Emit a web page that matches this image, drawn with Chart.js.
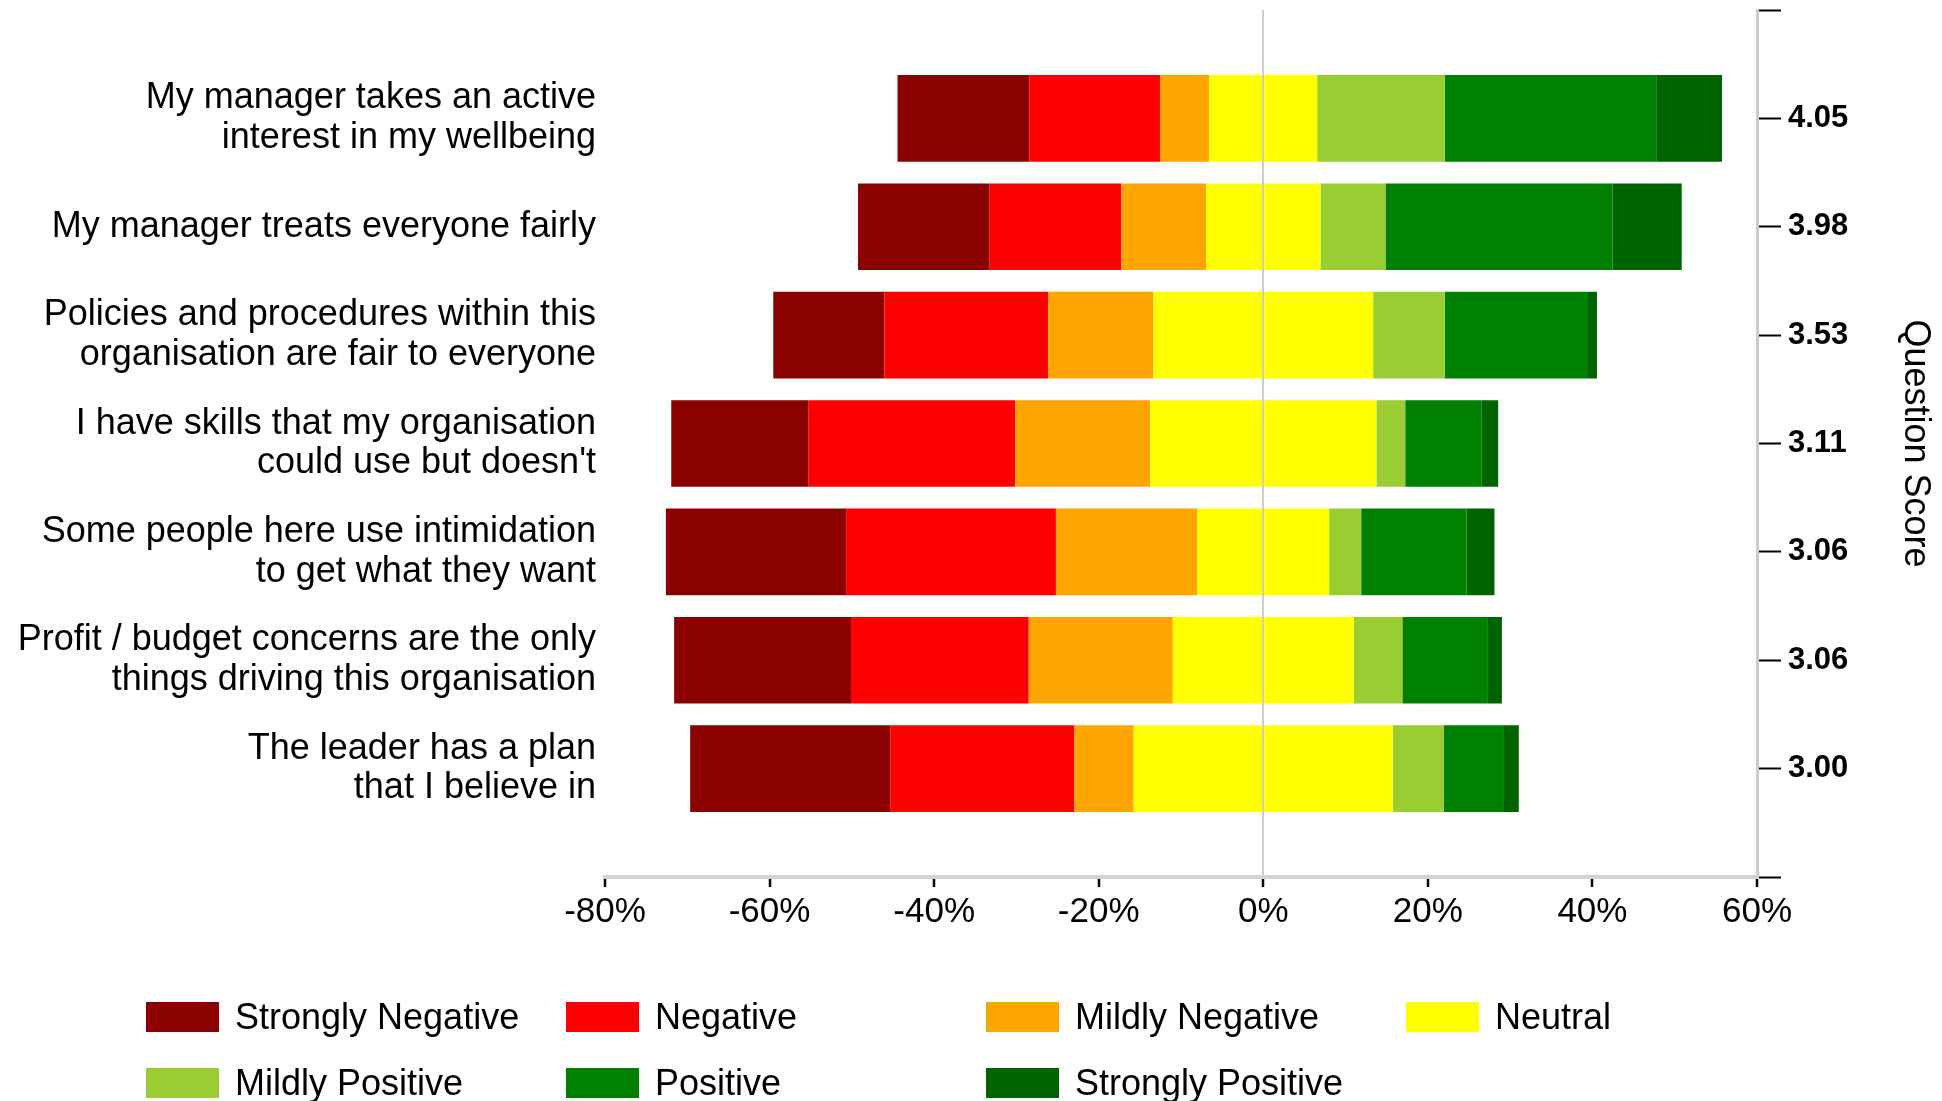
<!DOCTYPE html>
<html>
<head>
<meta charset="utf-8">
<script src="https://cdn.jsdelivr.net/npm/chart.js@4.4.1/dist/chart.umd.min.js"></script>
<style>
  html, body { margin: 0; padding: 0; background: #fff; }
  #wrap { position: relative; width: 1942px; height: 1101px; }
  #legend {
    position: absolute; left: 146px; top: 1002px;
    display: grid; grid-template-columns: repeat(4, 420px); row-gap: 36px;
    font: 36px "Liberation Sans", Arial, sans-serif; color: #000;
  }
  .item { display: flex; align-items: center; height: 30px; white-space: nowrap; }
  .swatch { width: 73px; height: 30px; margin-right: 16px; flex: none; }
</style>
</head>
<body>
<div id="wrap">
  <canvas id="chart" width="1942" height="1101"></canvas>
  <div id="legend"></div>
</div>
<script>
const questions = [
  ['My manager takes an active', 'interest in my wellbeing'],
  'My manager treats everyone fairly',
  ['Policies and procedures within this', 'organisation are fair to everyone'],
  ['I have skills that my organisation', "could use but doesn't"],
  ['Some people here use intimidation', 'to get what they want'],
  ['Profit / budget concerns are the only', 'things driving this organisation'],
  ['The leader has a plan', 'that I believe in']
];
const scores = ['4.05', '3.98', '3.53', '3.11', '3.06', '3.06', '3.00'];

const responses = ['Strongly Negative', 'Negative', 'Mildly Negative', 'Neutral', 'Mildly Positive', 'Positive', 'Strongly Positive'];
const colors = ['#8b0000', '#ff0000', '#ffa500', '#ffff00', '#9acd32', '#008000', '#006400'];

// % of answers per question (one entry per question, same order as above)
const stronglyNegative = [16.0, 16.0, 13.5, 16.7, 21.9, 21.5, 24.3];
const negative         = [15.9, 16.0, 19.9, 25.1, 25.5, 21.6, 22.4];
const mildlyNegative   = [6.0, 10.3, 12.8, 16.4, 17.2, 17.5, 7.2];
const neutral          = [13.1, 13.9, 26.7, 27.5, 16.0, 22.0, 31.5];
const mildlyPositive   = [15.5, 7.9, 8.7, 3.5, 3.9, 5.9, 6.2];
const positive         = [25.7, 27.6, 17.3, 9.3, 12.8, 10.4, 7.3];
const stronglyPositive = [8.0, 8.4, 1.2, 2.0, 3.4, 1.7, 1.8];

const xMin = -80, xMax = 60, xStep = 20;

// empty slot above and below the questions, so the axes get end ticks
const pad = arr => [null, ...arr, null];
const neg = arr => arr.map(v => -v);
const half = arr => arr.map(v => v / 2);

// negatives stack outward from zero, neutral is split across it
const datasets = [
  { label: 'Neutral', data: pad(neg(half(neutral))), backgroundColor: colors[3] },
  { label: 'Mildly Negative', data: pad(neg(mildlyNegative)), backgroundColor: colors[2] },
  { label: 'Negative', data: pad(neg(negative)), backgroundColor: colors[1] },
  { label: 'Strongly Negative', data: pad(neg(stronglyNegative)), backgroundColor: colors[0] },
  { label: 'Neutral', data: pad(half(neutral)), backgroundColor: colors[3] },
  { label: 'Mildly Positive', data: pad(mildlyPositive), backgroundColor: colors[4] },
  { label: 'Positive', data: pad(positive), backgroundColor: colors[5] },
  { label: 'Strongly Positive', data: pad(stronglyPositive), backgroundColor: colors[6] }
].map(d => ({ ...d, borderWidth: 0, barPercentage: 0.8, categoryPercentage: 1, yAxisID: 'y', xAxisID: 'x' }));

Chart.defaults.font.family = '"Liberation Sans", Arial, sans-serif';
Chart.defaults.color = '#000';

const noPad = s => { s.paddingTop = 0; s.paddingBottom = 0; s.paddingLeft = 0; s.paddingRight = 0; };

new Chart(document.getElementById('chart'), {
  type: 'bar',
  data: { labels: ['', ...questions, ''], datasets },
  options: {
    indexAxis: 'y',
    responsive: false,
    devicePixelRatio: 1,
    animation: false,
    layout: { padding: { top: 10, left: 0, right: 0, bottom: 144 } },
    plugins: { legend: { display: false }, tooltip: { enabled: false } },
    scales: {
      x: {
        type: 'linear', min: xMin, max: xMax, stacked: true,
        ticks: { stepSize: xStep, padding: 4, font: { size: 35 }, callback: v => v + '%' },
        grid: {
          color: c => (c.tick && c.tick.value === 0 ? '#cccccc' : 'transparent'),
          lineWidth: 2, tickColor: '#000', tickLength: 10, tickWidth: 2.5
        },
        border: { color: '#d3d3d3', width: 4 },
        afterFit: s => { s.height = 80; noPad(s); }
      },
      y: {
        type: 'category', offset: false, stacked: true,
        grid: { display: false, drawTicks: false }, border: { display: false },
        ticks: { autoSkip: false, padding: 9, font: { size: 36, lineHeight: 1.1 } },
        afterFit: s => { s.width = 605; noPad(s); }
      },
      y2: {
        type: 'category', position: 'right', offset: false,
        labels: ['', ...scores, ''],
        grid: { offset: false, drawOnChartArea: false, tickLength: 24, tickColor: '#000', tickWidth: 2 },
        border: { color: '#cccccc', width: 3 },
        ticks: { autoSkip: false, padding: 7, font: { size: 31, weight: 'bold' } },
        title: { display: true, text: 'Question Score', font: { size: 36 }, padding: { top: 5, bottom: 0 } },
        afterFit: s => { s.width = 185; noPad(s); }
      }
    }
  }
});

// legend in the original column layout
const legend = document.getElementById('legend');
responses.forEach((name, i) => {
  const item = document.createElement('div');
  item.className = 'item';
  item.innerHTML = `<span class="swatch" style="background:${colors[i]}"></span><span>${name}</span>`;
  legend.appendChild(item);
});
</script>
</body>
</html>
